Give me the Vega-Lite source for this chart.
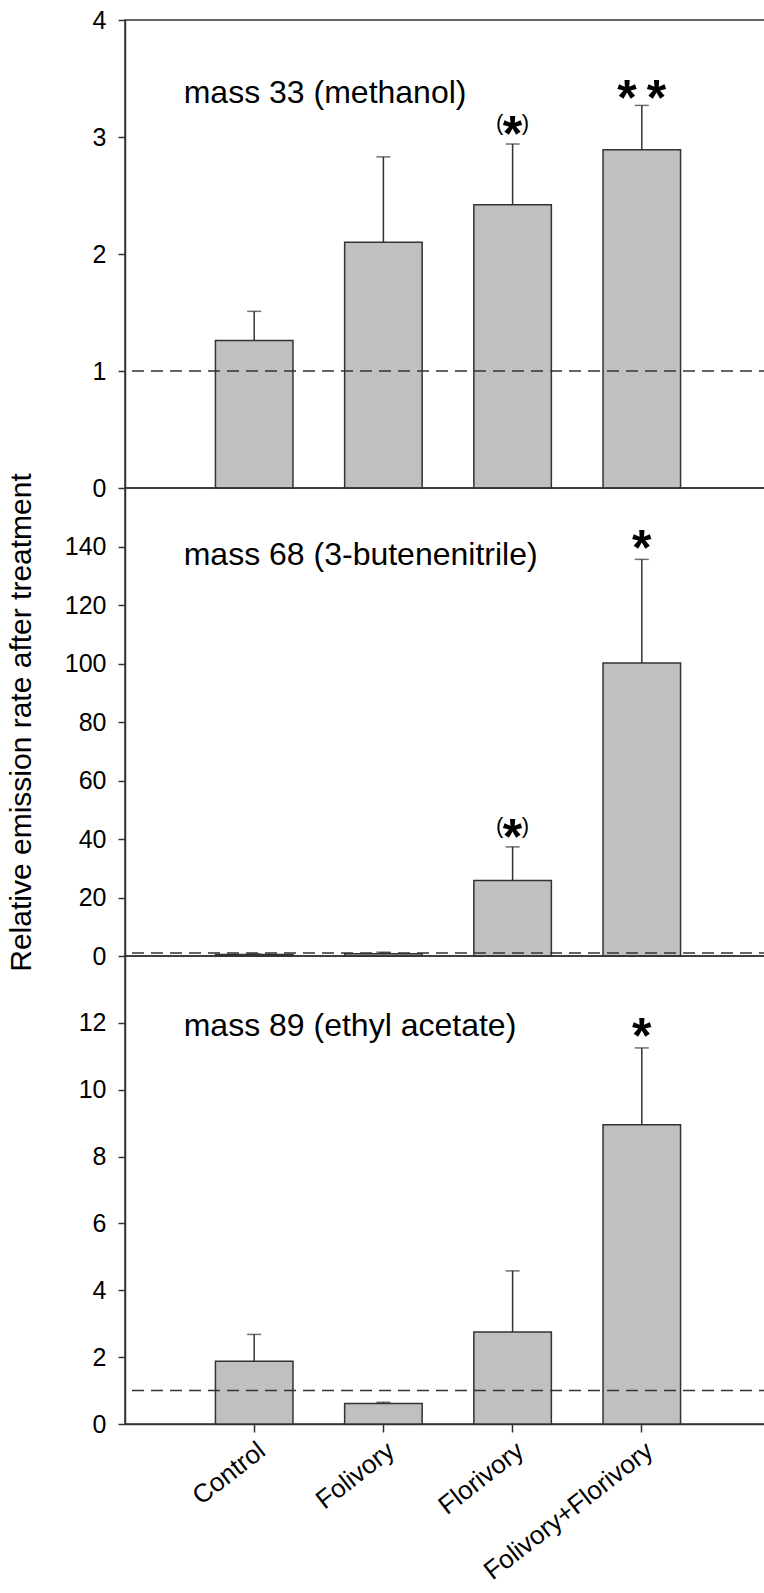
{
  "$schema": "https://vega.github.io/schema/vega-lite/v6.json",
  "padding": {"left": 5, "top": 7, "right": 0, "bottom": 0},
  "bounds": "flush",
  "spacing": 0,
  "datasets": {
    "bars": [
      {"panel": 1, "treatment": "Control", "mean": 1.26, "upper": 1.51},
      {"panel": 1, "treatment": "Folivory", "mean": 2.10, "upper": 2.83},
      {"panel": 1, "treatment": "Florivory", "mean": 2.42, "upper": 2.94},
      {"panel": 1, "treatment": "Folivory+Florivory", "mean": 2.89, "upper": 3.27},
      {"panel": 2, "treatment": "Control", "mean": 0.5, "upper": 0.7},
      {"panel": 2, "treatment": "Folivory", "mean": 0.8, "upper": 1.3},
      {"panel": 2, "treatment": "Florivory", "mean": 25.8, "upper": 37.3},
      {"panel": 2, "treatment": "Folivory+Florivory", "mean": 100.2, "upper": 135.6},
      {"panel": 3, "treatment": "Control", "mean": 1.88, "upper": 2.68},
      {"panel": 3, "treatment": "Folivory", "mean": 0.61, "upper": 0.65},
      {"panel": 3, "treatment": "Florivory", "mean": 2.75, "upper": 4.58},
      {"panel": 3, "treatment": "Folivory+Florivory", "mean": 8.95, "upper": 11.25}
    ],
    "stars": [
      {"panel": 1, "treatment": "Florivory", "y": 3.12, "star": "*", "paren": "(\u00a0\u00a0\u00a0)"},
      {"panel": 1, "treatment": "Folivory+Florivory", "y": 3.43, "star": "*\u2009*", "paren": ""},
      {"panel": 2, "treatment": "Florivory", "y": 44.3, "star": "*", "paren": "(\u00a0\u00a0\u00a0)"},
      {"panel": 2, "treatment": "Folivory+Florivory", "y": 143.2, "star": "*", "paren": ""},
      {"panel": 3, "treatment": "Folivory+Florivory", "y": 11.93, "star": "*", "paren": ""}
    ],
    "labels": [
      {"panel": 1, "treatment": "Control", "y": 3.38, "text": "mass 33 (methanol)"},
      {"panel": 2, "treatment": "Control", "y": 137, "text": "mass 68 (3-butenenitrile)"},
      {"panel": 3, "treatment": "Control", "y": 11.9, "text": "mass 89 (ethyl acetate)"}
    ],
    "ref": [{"ref": 1}]
  },
  "config": {
    "font": "Liberation Sans",
    "view": {"stroke": "#333333", "strokeWidth": 1.5},
    "axis": {
      "grid": false,
      "domainColor": "#333333",
      "domainWidth": 1.5,
      "tickColor": "#333333",
      "tickWidth": 1.5,
      "labelColor": "#000000",
      "labelFont": "Liberation Sans",
      "titleFont": "Liberation Sans",
      "titleFontWeight": "normal",
      "titleColor": "#000000"
    }
  },
  "vconcat": [
    {
      "width": 646,
      "height": 468,
      "layer": [
        {
          "data": {"name": "bars"},
          "transform": [{"filter": "datum.panel == 1"}],
          "mark": {"type": "bar", "fill": "#c0c0c0", "stroke": "#333333", "strokeWidth": 1.5},
          "encoding": {
            "x": {"field": "treatment", "type": "nominal", "sort": ["Control", "Folivory", "Florivory", "Folivory+Florivory"], "scale": {"paddingInner": 0.4, "paddingOuter": 0.7}, "axis": null},
            "y": {"field": "mean", "type": "quantitative", "title": null, "scale": {"domain": [0, 4], "nice": false, "zero": true}, "axis": {"values": [0, 1, 2, 3, 4], "format": "d", "tickSize": 7, "labelPadding": 12, "labelFontSize": 25, "title": null}}
          }
        },
        {
          "data": {"name": "bars"},
          "transform": [{"filter": "datum.panel == 1"}],
          "mark": {"type": "rule", "color": "#333333", "strokeWidth": 1.5},
          "encoding": {"x": {"field": "treatment", "type": "nominal", "sort": ["Control", "Folivory", "Florivory", "Folivory+Florivory"]}, "y": {"field": "mean", "type": "quantitative", "title": null}, "y2": {"field": "upper"}}
        },
        {
          "data": {"name": "bars"},
          "transform": [{"filter": "datum.panel == 1"}],
          "mark": {"type": "tick", "color": "#333333", "thickness": 1.5, "size": 14},
          "encoding": {"x": {"field": "treatment", "type": "nominal", "sort": ["Control", "Folivory", "Florivory", "Folivory+Florivory"]}, "y": {"field": "upper", "type": "quantitative", "title": null}}
        },
        {
          "data": {"name": "ref"},
          "mark": {"type": "rule", "color": "#333333", "strokeWidth": 1.5, "strokeDash": [12, 7]},
          "encoding": {"y": {"field": "ref", "type": "quantitative", "title": null}}
        },
        {
          "data": {"name": "labels"},
          "transform": [{"filter": "datum.panel == 1"}],
          "mark": {"type": "text", "align": "left", "baseline": "middle", "dx": -70.5, "fontSize": 32, "color": "#000000"},
          "encoding": {"x": {"field": "treatment", "type": "nominal", "sort": ["Control", "Folivory", "Florivory", "Folivory+Florivory"]}, "y": {"field": "y", "type": "quantitative", "title": null}, "text": {"field": "text"}}
        },
        {
          "data": {"name": "stars"},
          "transform": [{"filter": "datum.panel == 1"}],
          "mark": {"type": "text", "align": "center", "baseline": "middle", "fontSize": 22, "color": "#000000"},
          "encoding": {"x": {"field": "treatment", "type": "nominal", "sort": ["Control", "Folivory", "Florivory", "Folivory+Florivory"]}, "y": {"field": "y", "type": "quantitative", "title": null}, "text": {"field": "paren"}}
        },
        {
          "data": {"name": "stars"},
          "transform": [{"filter": "datum.panel == 1"}],
          "mark": {"type": "text", "align": "center", "baseline": "middle", "dy": 13, "fontSize": 50, "fontWeight": "bold", "color": "#000000"},
          "encoding": {"x": {"field": "treatment", "type": "nominal", "sort": ["Control", "Folivory", "Florivory", "Folivory+Florivory"]}, "y": {"field": "y", "type": "quantitative", "title": null}, "text": {"field": "star"}}
        }
      ]
    },
    {
      "width": 646,
      "height": 468,
      "layer": [
        {
          "data": {"name": "bars"},
          "transform": [{"filter": "datum.panel == 2"}],
          "mark": {"type": "bar", "fill": "#c0c0c0", "stroke": "#333333", "strokeWidth": 1.5},
          "encoding": {
            "x": {"field": "treatment", "type": "nominal", "sort": ["Control", "Folivory", "Florivory", "Folivory+Florivory"], "scale": {"paddingInner": 0.4, "paddingOuter": 0.7}, "axis": null},
            "y": {"field": "mean", "type": "quantitative", "title": "Relative emission rate after treatment", "scale": {"domain": [0, 160], "nice": false, "zero": true}, "axis": {"values": [0, 20, 40, 60, 80, 100, 120, 140], "tickSize": 7, "labelPadding": 12, "labelFontSize": 25, "title": "Relative emission rate after treatment", "titleFontSize": 30, "titlePadding": 28}}
          }
        },
        {
          "data": {"name": "bars"},
          "transform": [{"filter": "datum.panel == 2"}],
          "mark": {"type": "rule", "color": "#333333", "strokeWidth": 1.5},
          "encoding": {"x": {"field": "treatment", "type": "nominal", "sort": ["Control", "Folivory", "Florivory", "Folivory+Florivory"]}, "y": {"field": "mean", "type": "quantitative", "title": "Relative emission rate after treatment"}, "y2": {"field": "upper"}}
        },
        {
          "data": {"name": "bars"},
          "transform": [{"filter": "datum.panel == 2"}],
          "mark": {"type": "tick", "color": "#333333", "thickness": 1.5, "size": 14},
          "encoding": {"x": {"field": "treatment", "type": "nominal", "sort": ["Control", "Folivory", "Florivory", "Folivory+Florivory"]}, "y": {"field": "upper", "type": "quantitative", "title": "Relative emission rate after treatment"}}
        },
        {
          "data": {"name": "ref"},
          "mark": {"type": "rule", "color": "#333333", "strokeWidth": 1.5, "strokeDash": [12, 7]},
          "encoding": {"y": {"field": "ref", "type": "quantitative", "title": "Relative emission rate after treatment"}}
        },
        {
          "data": {"name": "labels"},
          "transform": [{"filter": "datum.panel == 2"}],
          "mark": {"type": "text", "align": "left", "baseline": "middle", "dx": -70.5, "fontSize": 32, "color": "#000000"},
          "encoding": {"x": {"field": "treatment", "type": "nominal", "sort": ["Control", "Folivory", "Florivory", "Folivory+Florivory"]}, "y": {"field": "y", "type": "quantitative", "title": "Relative emission rate after treatment"}, "text": {"field": "text"}}
        },
        {
          "data": {"name": "stars"},
          "transform": [{"filter": "datum.panel == 2"}],
          "mark": {"type": "text", "align": "center", "baseline": "middle", "fontSize": 22, "color": "#000000"},
          "encoding": {"x": {"field": "treatment", "type": "nominal", "sort": ["Control", "Folivory", "Florivory", "Folivory+Florivory"]}, "y": {"field": "y", "type": "quantitative", "title": "Relative emission rate after treatment"}, "text": {"field": "paren"}}
        },
        {
          "data": {"name": "stars"},
          "transform": [{"filter": "datum.panel == 2"}],
          "mark": {"type": "text", "align": "center", "baseline": "middle", "dy": 13, "fontSize": 50, "fontWeight": "bold", "color": "#000000"},
          "encoding": {"x": {"field": "treatment", "type": "nominal", "sort": ["Control", "Folivory", "Florivory", "Folivory+Florivory"]}, "y": {"field": "y", "type": "quantitative", "title": "Relative emission rate after treatment"}, "text": {"field": "star"}}
        }
      ]
    },
    {
      "width": 646,
      "height": 468,
      "layer": [
        {
          "data": {"name": "bars"},
          "transform": [{"filter": "datum.panel == 3"}],
          "mark": {"type": "bar", "fill": "#c0c0c0", "stroke": "#333333", "strokeWidth": 1.5},
          "encoding": {
            "x": {"field": "treatment", "type": "nominal", "sort": ["Control", "Folivory", "Florivory", "Folivory+Florivory"], "scale": {"paddingInner": 0.4, "paddingOuter": 0.7}, "axis": {"title": null, "labelAngle": -38, "labelFontSize": 26, "labelLimit": 0, "tickSize": 8, "labelPadding": 5, "domain": true}},
            "y": {"field": "mean", "type": "quantitative", "title": null, "scale": {"domain": [0, 14], "nice": false, "zero": true}, "axis": {"values": [0, 2, 4, 6, 8, 10, 12], "tickSize": 7, "labelPadding": 12, "labelFontSize": 25, "title": null}}
          }
        },
        {
          "data": {"name": "bars"},
          "transform": [{"filter": "datum.panel == 3"}],
          "mark": {"type": "rule", "color": "#333333", "strokeWidth": 1.5},
          "encoding": {"x": {"field": "treatment", "type": "nominal", "sort": ["Control", "Folivory", "Florivory", "Folivory+Florivory"]}, "y": {"field": "mean", "type": "quantitative", "title": null}, "y2": {"field": "upper"}}
        },
        {
          "data": {"name": "bars"},
          "transform": [{"filter": "datum.panel == 3"}],
          "mark": {"type": "tick", "color": "#333333", "thickness": 1.5, "size": 14},
          "encoding": {"x": {"field": "treatment", "type": "nominal", "sort": ["Control", "Folivory", "Florivory", "Folivory+Florivory"]}, "y": {"field": "upper", "type": "quantitative", "title": null}}
        },
        {
          "data": {"name": "ref"},
          "mark": {"type": "rule", "color": "#333333", "strokeWidth": 1.5, "strokeDash": [12, 7]},
          "encoding": {"y": {"field": "ref", "type": "quantitative", "title": null}}
        },
        {
          "data": {"name": "labels"},
          "transform": [{"filter": "datum.panel == 3"}],
          "mark": {"type": "text", "align": "left", "baseline": "middle", "dx": -70.5, "fontSize": 32, "color": "#000000"},
          "encoding": {"x": {"field": "treatment", "type": "nominal", "sort": ["Control", "Folivory", "Florivory", "Folivory+Florivory"]}, "y": {"field": "y", "type": "quantitative", "title": null}, "text": {"field": "text"}}
        },
        {
          "data": {"name": "stars"},
          "transform": [{"filter": "datum.panel == 3"}],
          "mark": {"type": "text", "align": "center", "baseline": "middle", "fontSize": 22, "color": "#000000"},
          "encoding": {"x": {"field": "treatment", "type": "nominal", "sort": ["Control", "Folivory", "Florivory", "Folivory+Florivory"]}, "y": {"field": "y", "type": "quantitative", "title": null}, "text": {"field": "paren"}}
        },
        {
          "data": {"name": "stars"},
          "transform": [{"filter": "datum.panel == 3"}],
          "mark": {"type": "text", "align": "center", "baseline": "middle", "dy": 13, "fontSize": 50, "fontWeight": "bold", "color": "#000000"},
          "encoding": {"x": {"field": "treatment", "type": "nominal", "sort": ["Control", "Folivory", "Florivory", "Folivory+Florivory"]}, "y": {"field": "y", "type": "quantitative", "title": null}, "text": {"field": "star"}}
        }
      ]
    }
  ]
}
